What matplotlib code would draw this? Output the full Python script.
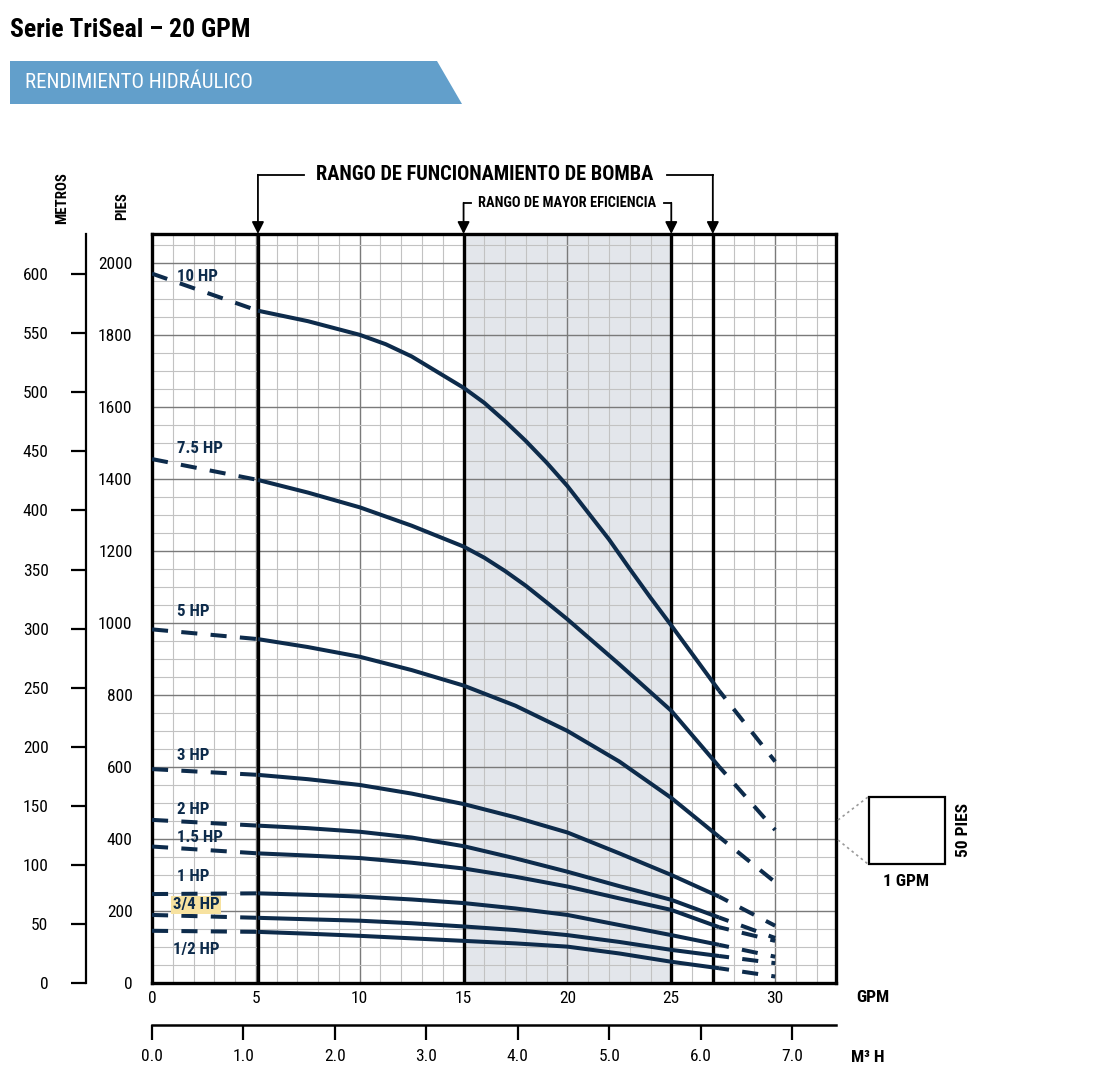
import numpy as np
import matplotlib.pyplot as plt
from matplotlib import font_manager as fm
from matplotlib.patches import Polygon, Rectangle
from matplotlib.lines import Line2D

# buscar una fuente estrecha entre las instaladas
nombres = {f.name for f in fm.fontManager.ttflist}
estrechas = ['Liberation Sans Narrow', 'Roboto Condensed', 'Open Sans Condensed', 'Noto Sans Condensed',
             'DejaVu Sans Condensed']
fuente = next((n for n in estrechas if n in nombres), None)
estirar = 'normal'
if fuente is None:
    cond = [f.name for f in fm.fontManager.ttflist
            if str(f.stretch) in ('condensed', 'semi-condensed', 'extra-condensed', 'ultra-condensed')]
    if cond:
        fuente = cond[0]
        estirar = 'condensed'
    else:
        fuente = 'Liberation Sans' if 'Liberation Sans' in nombres else 'DejaVu Sans'
plt.rcParams['font.family'] = [fuente, 'DejaVu Sans']
plt.rcParams['font.stretch'] = estirar

# caudal (GPM) donde se leyeron las curvas
gpm = [0, 5.1, 7.5, 10, 12.5, 15, 17.5, 20, 22.5, 25, 27.3, 30]
gpm_10 = [0, 5.1, 7.5, 10, 11.25, 12.5, 15, 16, 17, 18, 19, 20, 21, 22, 23, 24, 25, 27.3, 30]
gpm_75 = [0, 5.1, 7.5, 10, 12.5, 15, 16, 17, 18, 19, 20, 22.5, 25, 27.3, 30]

# altura (pies) de cada curva
hp_10 = [1970, 1867, 1838, 1800, 1774, 1740, 1653, 1611, 1560, 1505, 1445, 1380, 1306, 1232, 1150, 1070,
         993, 812, 615]
hp_75 = [1455, 1397, 1362, 1321, 1270, 1212, 1181, 1144, 1103, 1057, 1010, 885, 756, 601, 425]
hp_5 = [982, 955, 933, 906, 869, 826, 770, 700, 615, 514, 406, 280]
hp_3 = [594, 578, 566, 550, 526, 497, 460, 418, 360, 300, 240, 159]
hp_2 = [453, 437, 430, 420, 404, 380, 346, 309, 269, 231, 182, 125]
hp_15 = [379, 360, 354, 347, 334, 318, 295, 268, 235, 203, 155, 117]
hp_1 = [247, 249, 245, 240, 232, 222, 207, 189, 161, 133, 106, 73]
hp_34 = [189, 181, 177, 173, 166, 157, 147, 133, 114, 92, 75, 55]
hp_12 = [145, 142, 137, 131, 124, 117, 110, 101, 82, 59, 41, 18]

caudales = [gpm_10, gpm_75, gpm, gpm, gpm, gpm, gpm, gpm, gpm]
curvas = [hp_10, hp_75, hp_5, hp_3, hp_2, hp_15, hp_1, hp_34, hp_12]
etiquetas = ['10 HP', '7.5 HP', '5 HP', '3 HP', '2 HP', '1.5 HP', '1 HP', '3/4 HP', '1/2 HP']
etiqueta_x = [1.2, 1.2, 1.2, 1.2, 1.2, 1.2, 1.2, 1.0, 1.0]
etiqueta_y = [1961, 1483, 1033, 633, 481, 403, 297, 217, 92]

pies_ticks = list(range(0, 2001, 200))
metros_ticks = list(range(0, 601, 50))
gpm_ticks = [0, 5, 10, 15, 20, 25, 30]
m3h_ticks = [0, 1, 2, 3, 4, 5, 6, 7]

rango_bomba = (5.1, 27.0)
rango_eficiencia = (15.0, 25.0)

W, H = 1106, 1084
azul = '#0d2b4b'


def fx(px):
    return px / W


def fy(py):
    return 1 - py / H


fig = plt.figure(figsize=(W / 100, H / 100), dpi=100)
renderer = fig.canvas.get_renderer()


def talla(texto, ancho_px, maximo, peso='bold'):
    # tamaño de letra para que el texto ocupe ancho_px
    t = fig.text(0, 0, texto, fontsize=20, fontweight=peso)
    w = t.get_window_extent(renderer).width
    t.remove()
    return min(maximo, 20 * ancho_px / w)


s_titulo = talla('Serie TriSeal – 20 GPM', 240, 28)
s_banda = talla('RENDIMIENTO HIDRÁULICO', 228, 22, 'normal')
s_rango = talla('RANGO DE FUNCIONAMIENTO DE BOMBA', 339, 22)
s_efic = talla('RANGO DE MAYOR EFICIENCIA', 178, 14)
s_tick = talla('2000', 35, 15)
s_curva = talla('10 HP', 41, 14)
s_eje = talla('METROS', 52, 14)

# --- cabecera ---
fig.text(fx(10), fy(30), 'Serie TriSeal – 20 GPM', fontsize=s_titulo, fontweight='bold',
         va='center', ha='left', color='black')
fig.patches.append(Polygon([(fx(10), fy(61)), (fx(437), fy(61)), (fx(462), fy(104)), (fx(10), fy(104))],
                           closed=True, transform=fig.transFigure, facecolor='#629fcb', edgecolor='none'))
fig.text(fx(25), fy(83), 'RENDIMIENTO HIDRÁULICO', fontsize=s_banda, color='white', va='center', ha='left')

# --- grafico principal ---
left, right, top, bottom = 152, 836, 234, 983
ax = fig.add_axes([fx(left), fy(bottom), fx(right - left), (bottom - top) / H])
xmax = 32.93
ymax = 2080
ax.set_xlim(0, xmax)
ax.set_ylim(0, ymax)

ax.axvspan(rango_eficiencia[0], rango_eficiencia[1], color='#e3e6eb', zorder=0)

ax.set_xticks(gpm_ticks)
ax.set_xticks(np.arange(0, 33, 1), minor=True)
ax.set_yticks(pies_ticks)
ax.set_yticks(np.arange(0, ymax, 50), minor=True)
ax.grid(which='minor', color='#c2c2c2', lw=0.8, zorder=1)
ax.grid(which='major', color='#7a7a7a', lw=1.0, zorder=1)
ax.set_axisbelow(True)
ax.tick_params(which='both', length=0)
ax.tick_params(axis='x', pad=6, labelsize=s_tick)
ax.tick_params(axis='y', pad=14, labelsize=s_tick)
for s in ax.spines.values():
    s.set_linewidth(2.4)

for xv in list(rango_bomba) + list(rango_eficiencia):
    ax.axvline(xv, color='black', lw=2.4, zorder=4)

for x, y, lab, lx, ly in zip(caudales, curvas, etiquetas, etiqueta_x, etiqueta_y):
    ax.plot(x[:2], y[:2], color=azul, lw=2.9, ls=(0, (4, 3.3)), zorder=5)
    ax.plot(x[1:-1], y[1:-1], color=azul, lw=2.9, zorder=5, solid_capstyle='butt',
            solid_joinstyle='round')
    ax.plot(x[-2:], y[-2:], color=azul, lw=2.9, ls=(1.5, (4, 3.3)), zorder=5)
    kw = {}
    if lab == '3/4 HP':
        kw['bbox'] = dict(boxstyle='square,pad=0.1', facecolor='#f7e2a0', edgecolor='none')
    ax.text(lx, ly, lab, color=azul, fontsize=s_curva, fontweight='bold', ha='left', va='center',
            zorder=6, **kw)

# --- rangos arriba ---
y_b = (bottom - 175) / 0.36
y_e = (bottom - 203) / 0.36
lk = dict(color='black', lw=1.3, clip_on=False)
ak = dict(arrowstyle='-|>', color='black', lw=1.3, mutation_scale=18, shrinkA=0, shrinkB=0)
ax.plot([rango_bomba[0], 7.3], [y_b, y_b], **lk)
ax.plot([24.8, rango_bomba[1]], [y_b, y_b], **lk)
ax.text(16.0, y_b, 'RANGO DE FUNCIONAMIENTO DE BOMBA', fontsize=s_rango, fontweight='bold',
        ha='center', va='center')
ax.plot([rango_eficiencia[0], 15.35], [y_e, y_e], **lk)
ax.plot([24.65, rango_eficiencia[1]], [y_e, y_e], **lk)
ax.text(20.0, y_e, 'RANGO DE MAYOR EFICIENCIA', fontsize=s_efic, fontweight='bold',
        ha='center', va='center')
for xv, yv in [(rango_bomba[0], y_b), (rango_bomba[1], y_b), (rango_eficiencia[0], y_e), (rango_eficiencia[1], y_e)]:
    ax.annotate('', xy=(xv, ymax), xytext=(xv, yv), arrowprops=ak, annotation_clip=False)

# --- eje metros ---
axm = fig.add_axes([fx(86), fy(bottom), 0.0001, (bottom - top) / H])
axm.set_ylim(0, ymax)
axm.set_xticks([])
axm.set_yticks([m * 3.28084 for m in metros_ticks])
axm.set_yticklabels([str(m) for m in metros_ticks])
axm.tick_params(axis='y', length=11, width=1.6, pad=16, labelsize=s_tick)
for k in ['top', 'right', 'bottom']:
    axm.spines[k].set_visible(False)
axm.spines['left'].set_linewidth(1.6)
axm.patch.set_visible(False)

fig.text(fx(62), fy(198), 'METROS', rotation=90, fontsize=s_eje, fontweight='bold', ha='center', va='center')
fig.text(fx(122), fy(206), 'PIES', rotation=90, fontsize=s_eje, fontweight='bold', ha='center', va='center')

# --- eje m3/h ---
ax2 = fig.add_axes([fx(left), fy(1025), fx(right - left), 0.0001])
ax2.set_xlim(0, xmax / 4.403)
ax2.set_yticks([])
ax2.set_xticks(m3h_ticks)
ax2.set_xticklabels(['%.1f' % v for v in m3h_ticks])
ax2.tick_params(axis='x', length=11, width=1.6, pad=6, labelsize=s_tick)
for k in ['top', 'right', 'left']:
    ax2.spines[k].set_visible(False)
ax2.spines['bottom'].set_linewidth(1.8)
ax2.patch.set_visible(False)

fig.text(fx(856), fy(997), 'GPM', fontsize=s_tick, fontweight='bold', ha='left', va='center')
fig.text(fx(851), fy(1058), 'M³ H', fontsize=s_tick, fontweight='bold', ha='left', va='center')

# --- cuadro de escala ---
fig.patches.append(Rectangle((fx(869), fy(864)), fx(76), (864 - 797) / H, transform=fig.transFigure,
                             facecolor='white', edgecolor='black', lw=1.6))
for p0, p1 in [((838, 820), (868, 797)), ((838, 840), (868, 864))]:
    fig.lines.append(Line2D([fx(p0[0]), fx(p1[0])], [fy(p0[1]), fy(p1[1])], transform=fig.transFigure,
                            color='#9a9a9a', lw=1.2, ls=(0, (1.5, 2))))
fig.text(fx(906), fy(882), '1 GPM', fontsize=s_tick, fontweight='bold', ha='center', va='center')
fig.text(fx(963), fy(830), '50 PIES', rotation=90, fontsize=s_tick, fontweight='bold', ha='center', va='center')

fig.savefig('out.png', dpi=100)
